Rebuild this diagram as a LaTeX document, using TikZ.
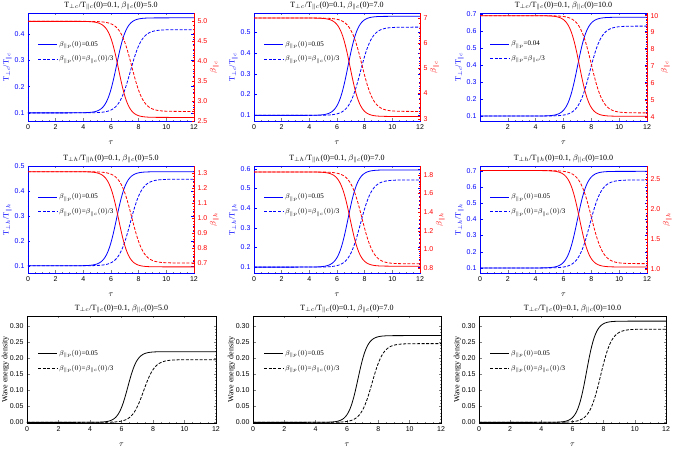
\documentclass[tikz,border=0pt]{standalone}
\usepackage{fontspec}
\setmainfont{Liberation Serif}
\setsansfont{Liberation Sans}
\usepackage{pgfplots}
\pgfplotsset{compat=1.18}
\pgfplotsset{
 base/.style={scale only axis,anchor=south west,xmin=0,xmax=12,
  minor x tick num=3,minor y tick num=4,
  tick style={line width=0.4pt},major tick length=2.5pt,minor tick length=1.3pt,
  tick label style={font=\sffamily\fontsize{7}{8}\selectfont},
  /pgf/number format/assume math mode=true,
  label style={font=\fontsize{8}{9}\selectfont},
  xlabel style={yshift=-5pt},
  title style={font=\fontsize{8}{9}\selectfont,yshift=-7pt},
  xlabel={$\tau$},
  every axis plot/.append style={line width=0.8pt,domain=0:12,samples=160},
  legend style={draw=none,fill=none,at={(0.04,0.78)},anchor=north west,
    font=\fontsize{7}{8}\selectfont,row sep=4pt},
  legend image code/.code={\draw[mark repeat=2,mark phase=2,#1] plot coordinates {(0cm,0cm) (0.65cm,0cm)};},
  legend cell align=left},
 dsh/.style={dash pattern=on 3pt off 1.6pt},
 blueax/.style={base,y axis line style={blue},ytick style={blue},
  yticklabel style={blue},ylabel style={blue},axis line style={line width=0.6pt},
  yticklabel style={/pgf/number format/fixed,/pgf/number format/precision=2}},
 redax/.style={base,axis y line*=right,axis x line=none,y axis line style={red,line width=0.6pt},
  ytick style={red},yticklabel style={red},ylabel style={red}},
}
\newcommand\sg[4]{#1+(#2-#1)/(1+exp(-(x-#3)/#4))}
\newcommand\twin{%
\begin{axis}[blueax,at={(\L pt,462pt-\T pt-\H pt)},width=\W pt,height=\H pt,
  ymin=\ya,ymax=\yb,ytick=\yt,xtick=\xt,title={\ttl},ylabel={\yl},ylabel shift=-4pt]
 \addplot[blue] {\sg{0.1}{\bs}{\ms}{0.36}};
 \addplot[blue,dsh] {\sg{0.1}{\bd}{\md}{0.42}};
 \leg
\end{axis}
\begin{axis}[redax,at={(\L pt,462pt-\T pt-\H pt)},width=\W pt,height=\H pt,
  ymin=\ra,ymax=\rb,ytick=\rt,ylabel={\rl},ylabel shift=-4pt,
  yticklabel style={/pgf/number format/fixed,/pgf/number format/fixed zerofill,/pgf/number format/precision=\rp}]
 \addplot[red] {\sg{\rz}{\rs}{\ms-0.15}{0.36}};
 \addplot[red,dsh] {\sg{\rz}{\rd}{\md-0.1}{0.42}};
\end{axis}}
\newcommand\legA{\addlegendentry{$\beta_{\parallel p}(0)$=0.05}\addlegendentry{$\beta_{\parallel p}(0)$=$\beta_{\parallel c}(0)$/3}}
\newcommand\legB{\addlegendentry{$\beta_{\parallel p}$=0.04}\addlegendentry{$\beta_{\parallel p}$=$\beta_{\parallel c}$/3}}
\newcommand\wave{%
\begin{axis}[base,at={(\L pt,462pt-\T pt-\H pt)},width=\W pt,height=\H pt,
  ymin=-0.002,ymax=0.331,ytick={0,0.05,0.1,0.15,0.2,0.25,0.3},xtick={0,2,4,6,8,10,12},
  title={\ttl},ylabel={Wave energy density},
  axis line style={line width=0.6pt},ylabel shift=-6pt,
  yticklabel style={/pgf/number format/fixed,/pgf/number format/fixed zerofill,/pgf/number format/precision=2},
  legend style={at={(0.04,0.72)}}]
 \addplot[black] {\sg{0}{\bs}{\ms}{0.3}};
 \addplot[black,dsh] {\sg{0}{\bd}{\md}{0.36}};
 \legA
\end{axis}}
\begin{document}
\begin{tikzpicture}
\useasboundingbox (0,0) rectangle (673pt,462pt);
% row 1
\def\T{13}\def\H{108}\def\xt{0,2,4,6,8,10,12}\let\leg\legA
\def\yl{T$_{\perp c}$/T$_{\parallel c}$}\def\rl{$\beta_{\parallel c}$}
\def\L{28}\def\W{166}\def\ttl{T$_{\perp c}$/T$_{\parallel c}$(0)=0.1, $\beta_{\parallel c}$(0)=5.0}
\def\ya{0.069}\def\yb{0.4805}\def\yt{0.1,0.2,0.3,0.4}\def\bs{0.462}\def\bd{0.417}\def\ms{6.4}\def\md{7.4}
\def\ra{2.5}\def\rb{5.21}\def\rt{2.5,3,3.5,4,4.5,5}\def\rz{5.0}\def\rs{2.59}\def\rd{2.74}\def\rp{1}
\twin
\def\L{254}\def\W{166}\def\ttl{T$_{\perp c}$/T$_{\parallel c}$(0)=0.1, $\beta_{\parallel c}$(0)=7.0}
\def\ya{0.073}\def\yb{0.592}\def\yt{0.1,0.2,0.3,0.4,0.5}\def\bs{0.576}\def\bd{0.524}\def\ms{6.8}\def\md{7.7}
\def\ra{2.91}\def\rb{7.2}\def\rt{3,4,5,6,7}\def\rz{7.0}\def\rs{3.09}\def\rd{3.29}\def\rp{0}
\twin
\def\L{480}\def\W{167}\def\ttl{T$_{\perp c}$/T$_{\parallel c}$(0)=0.1, $\beta_{\parallel c}$(0)=10.0}\def\xt{2,4,6,8,10,12}\let\leg\legB
\def\ya{0.071}\def\yb{0.705}\def\yt{0.1,0.2,0.3,0.4,0.5,0.6,0.7}\def\bs{0.68}\def\bd{0.628}\def\ms{7.0}\def\md{7.9}
\def\ra{3.76}\def\rb{10.16}\def\rt{4,5,6,7,8,9,10}\def\rz{10.0}\def\rs{4.04}\def\rd{4.24}\def\rp{0}
\twin
% row 2
\def\T{166}\def\H{107}\def\xt{0,2,4,6,8,10,12}\let\leg\legA
\def\yl{T$_{\perp h}$/T$_{\parallel h}$}\def\rl{$\beta_{\parallel h}$}
\def\L{28}\def\W{166}\def\ttl{T$_{\perp h}$/T$_{\parallel h}$(0)=0.1, $\beta_{\parallel c}$(0)=5.0}
\def\ya{0.071}\def\yb{0.5}\def\yt{0.1,0.2,0.3,0.4,0.5}\def\bs{0.477}\def\bd{0.447}\def\ms{6.4}\def\md{7.4}
\def\ra{0.633}\def\rb{1.349}\def\rt{0.7,0.8,0.9,1,1.1,1.2,1.3}\def\rz{1.311}\def\rs{0.674}\def\rd{0.7}\def\rp{1}
\twin
\def\L{254}\def\W{166}\def\ttl{T$_{\perp h}$/T$_{\parallel h}$(0)=0.1, $\beta_{\parallel c}$(0)=7.0}
\def\ya{0.07}\def\yb{0.615}\def\yt{0.1,0.2,0.3,0.4,0.5,0.6}\def\bs{0.595}\def\bd{0.544}\def\ms{6.8}\def\md{7.7}
\def\ra{0.747}\def\rb{1.896}\def\rt{0.8,1,1.2,1.4,1.6,1.8}\def\rz{1.832}\def\rs{0.82}\def\rd{0.846}
\twin
\def\L{480}\def\W{167}\def\ttl{T$_{\perp h}$/T$_{\parallel h}$(0)=0.1, $\beta_{\parallel c}$(0)=10.0}
\def\ya{0.069}\def\yb{0.729}\def\yt{0.1,0.2,0.3,0.4,0.5,0.6,0.7}\def\bs{0.696}\def\bd{0.643}\def\ms{7.0}\def\md{7.9}
\def\ra{0.933}\def\rb{2.72}\def\rt{1,1.5,2,2.5}\def\rz{2.644}\def\rs{1.033}\def\rd{1.089}
\twin
% row 3
\def\T{316}\def\H{107}
\def\L{27}\def\W{189}\def\ttl{T$_{\perp c}$/T$_{\parallel c}$(0)=0.1, $\beta_{\parallel c}$(0)=5.0}
\def\bs{0.22}\def\bd{0.195}\def\ms{6.4}\def\md{7.4}
\wave
\def\L{253}\def\W{188}\def\ttl{T$_{\perp c}$/T$_{\parallel c}$(0)=0.1, $\beta_{\parallel c}$(0)=7.0}
\def\bs{0.27}\def\bd{0.245}\def\ms{6.7}\def\md{7.6}
\wave
\def\L{479}\def\W{187}\def\ttl{T$_{\perp c}$/T$_{\parallel c}$(0)=0.1, $\beta_{\parallel c}$(0)=10.0}
\def\bs{0.315}\def\bd{0.29}\def\ms{6.9}\def\md{7.8}
\wave
\end{tikzpicture}
\end{document}
